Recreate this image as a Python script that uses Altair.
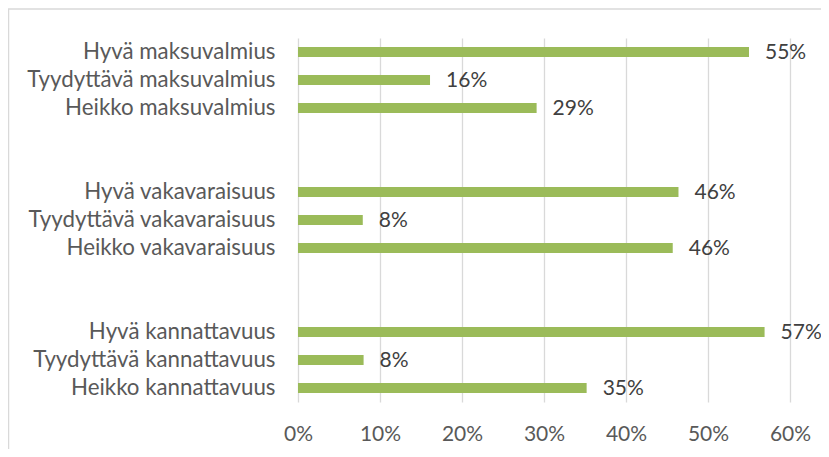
import altair as alt
import pandas as pd

categories = [
    "Hyvä maksuvalmius", "Tyydyttävä maksuvalmius", "Heikko maksuvalmius",
    " ", "  ",
    "Hyvä vakavaraisuus", "Tyydyttävä vakavaraisuus", "Heikko vakavaraisuus",
    "   ", "    ",
    "Hyvä kannattavuus", "Tyydyttävä kannattavuus", "Heikko kannattavuus",
]
values = [0.550, 0.161, 0.291, None, None, 0.464, 0.079, 0.457, None, None, 0.569, 0.080, 0.352]
labels = ["55%", "16%", "29%", "", "", "46%", "8%", "46%", "", "", "57%", "8%", "35%"]
x_ticks = [0, 0.1, 0.2, 0.3, 0.4, 0.5, 0.6]

df = pd.DataFrame({"cat": categories, "val": values, "lab": labels})

FONT = "Lato"
FS = 21
y = alt.Y("cat:N", sort=categories, title=None,
          scale=alt.Scale(paddingInner=0.64, paddingOuter=0.32),
          axis=alt.Axis(domain=False, ticks=False, labelPadding=23, labelFontSize=22.3,
                        labelColor="#595959", labelFont=FONT, grid=False, labelLimit=500))
x = alt.X("val:Q", title=None,
          scale=alt.Scale(domain=[0, 0.6], nice=False),
          axis=alt.Axis(values=x_ticks, format=".0%", domain=False, ticks=False,
                        grid=True, gridColor="#d9d9d9", gridWidth=1.3,
                        labelFontSize=FS, labelColor="#595959", labelFont=FONT,
                        labelPadding=21, labelFlush=False))

bars = alt.Chart(df).mark_bar(color="#9bbb59").encode(x=x, y=y)
text = alt.Chart(df).mark_text(align="left", baseline="middle", dx=16, dy=1, fontSize=FS,
                               color="#404040", font=FONT).encode(
    x=alt.X("val:Q"), y=alt.Y("cat:N", sort=categories), text="lab:N")
frame = alt.Chart(pd.DataFrame({"a": [0]})).mark_rect(
    fill=None, stroke="#d9d9d9", strokeWidth=1.5).encode(
    x=alt.value(-289.5), x2=alt.value(700), y=alt.value(-29), y2=alt.value(600))

chart = alt.layer(frame, bars, text).properties(
    width=492, height=364,
    autosize=alt.AutoSizeParams(type="none"),
    padding={"left": 290, "top": 30, "right": 31, "bottom": 47},
).configure_view(stroke=None)

chart.save("out.html", embed_options={"renderer": "svg", "actions": False})
